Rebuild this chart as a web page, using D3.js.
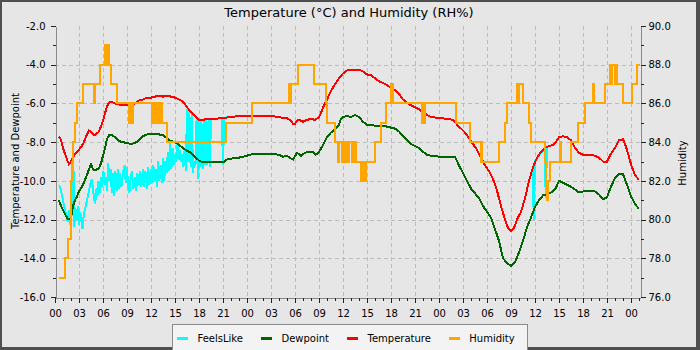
<!DOCTYPE html>
<html>
<head>
<meta charset="utf-8">
<script src="https://cdn.jsdelivr.net/npm/d3@7"></script>
<style>
  html, body { margin: 0; padding: 0; background: #e6e6e6; }
  svg { display: block; font-family: "DejaVu Sans", sans-serif; }
</style>
</head>
<body>
<svg id="chart" width="700" height="350"></svg>
<script>
// ---- Data: [hours since first midnight, value] ----

const temperature = [
  [0.5,-7.7],[0.75,-7.9],[1.0,-8.3],[1.25,-8.6],[1.5,-8.9],[1.75,-9.15],[2.0,-9.0],[2.25,-8.8],
  [2.5,-8.6],[3.0,-8.4],[3.5,-8.1],[4.0,-7.6],[4.25,-7.4],[4.5,-7.45],[4.75,-7.6],[5.0,-7.65],
  [5.5,-7.45],[6.0,-6.9],[6.25,-6.5],[6.5,-6.15],[6.75,-5.95],[7.0,-5.9],[7.5,-6.0],[8.0,-6.05],
  [8.5,-6.1],[9.0,-6.1],[9.5,-6.1],[10.0,-6.0],[10.5,-5.85],[11.0,-5.8],[11.5,-5.7],[12.0,-5.7],
  [12.5,-5.65],[13.0,-5.6],[13.5,-5.65],[14.0,-5.6],[14.5,-5.65],[15.0,-5.7],[15.5,-5.8],[16.0,-5.9],
  [16.5,-6.2],[17.0,-6.45],[17.5,-6.65],[18.0,-6.85],[18.5,-6.85],[19.0,-6.8],[19.5,-6.8],[20.0,-6.8],
  [21.0,-6.75],[22.0,-6.7],[23.0,-6.65],[24.0,-6.65],[25.0,-6.65],[26.0,-6.65],[27.0,-6.65],[28.0,-6.7],
  [28.5,-6.75],[29.0,-6.75],[29.5,-6.9],[29.75,-7.05],[30.0,-7.05],[30.25,-6.9],[30.5,-6.85],[31.0,-6.95],
  [31.5,-6.85],[32.0,-6.8],[32.5,-6.85],[33.0,-6.7],[33.25,-6.5],[33.5,-6.2],[34.0,-5.8],[34.5,-5.35],
  [35.0,-5.0],[35.5,-4.7],[36.0,-4.45],[36.5,-4.3],[37.0,-4.25],[37.5,-4.25],[38.0,-4.25],[38.5,-4.35],
  [39.0,-4.5],[39.5,-4.55],[40.0,-4.7],[40.5,-4.85],[41.0,-4.95],[41.5,-5.05],[42.0,-5.2],[42.5,-5.3],
  [43.0,-5.5],[43.5,-5.8],[44.0,-5.95],[44.5,-6.1],[45.0,-6.2],[45.5,-6.3],[46.0,-6.45],[46.5,-6.6],
  [47.0,-6.7],[48.0,-6.75],[49.0,-6.8],[49.75,-6.85],[50.25,-7.1],[50.75,-7.3],[51.25,-7.5],[51.75,-7.8],
  [52.25,-8.1],[52.75,-8.4],[53.25,-8.8],[53.75,-9.2],[54.25,-9.5],[54.75,-9.9],[55.25,-10.5],[55.75,-11.3],
  [56.25,-12.0],[56.6,-12.4],[57.0,-12.6],[57.4,-12.4],[57.75,-12.0],[58.25,-11.6],[58.75,-10.9],[59.25,-10.0],
  [59.75,-9.3],[60.25,-8.8],[60.75,-8.5],[61.25,-8.3],[61.75,-8.2],[62.25,-8.15],[62.6,-8.0],[63.0,-7.75],
  [63.5,-7.7],[64.0,-7.75],[64.5,-7.9],[65.0,-8.3],[65.5,-8.55],[66.0,-8.65],[66.5,-8.65],[67.0,-8.65],
  [67.5,-8.7],[68.0,-8.8],[68.5,-9.0],[69.0,-9.0],[69.5,-8.6],[70.0,-8.3],[70.5,-7.9],[71.0,-7.85],
  [71.25,-8.1],[71.5,-8.4],[72.0,-9.15],[72.5,-9.7],[73.0,-9.95]
];

const dewpoint = [
  [0.5,-11.0],[0.75,-11.3],[1.0,-11.5],[1.25,-11.7],[1.5,-11.9],[1.75,-12.0],[2.0,-11.9],[2.25,-11.3],
  [2.5,-11.0],[2.75,-10.8],[3.0,-10.55],[3.5,-10.2],[4.0,-9.7],[4.25,-9.4],[4.5,-9.15],[4.75,-9.4],
  [5.0,-9.45],[5.5,-9.35],[5.75,-9.1],[6.0,-8.7],[6.25,-8.3],[6.5,-7.85],[6.75,-7.65],[7.0,-7.6],
  [7.5,-7.75],[8.0,-7.95],[8.5,-8.0],[9.0,-8.05],[9.5,-8.1],[10.0,-8.05],[10.5,-7.9],[11.0,-7.7],
  [11.5,-7.6],[12.0,-7.6],[12.5,-7.6],[13.0,-7.6],[13.5,-7.65],[14.0,-7.8],[14.5,-7.95],[15.0,-8.0],
  [15.5,-8.15],[16.0,-8.3],[16.5,-8.45],[17.0,-8.55],[17.5,-8.75],[18.0,-8.95],[18.5,-9.05],[19.0,-9.05],
  [20.0,-9.05],[21.0,-9.05],[21.5,-8.9],[22.0,-8.85],[23.0,-8.8],[24.0,-8.7],[24.75,-8.6],[26.0,-8.6],
  [27.0,-8.6],[28.0,-8.65],[28.5,-8.75],[29.0,-8.7],[29.5,-8.85],[29.75,-8.9],[30.25,-8.55],[30.75,-8.7],
  [31.25,-8.55],[31.75,-8.5],[32.25,-8.5],[32.6,-8.65],[33.0,-8.5],[33.5,-8.15],[34.0,-7.75],[34.5,-7.5],
  [35.0,-7.35],[35.5,-7.1],[35.75,-6.8],[36.0,-6.7],[36.5,-6.65],[37.0,-6.7],[37.5,-6.6],[38.0,-6.7],
  [38.5,-6.95],[39.0,-7.1],[39.5,-7.1],[40.0,-7.15],[40.5,-7.15],[41.0,-7.15],[41.5,-7.2],[42.0,-7.25],
  [42.5,-7.3],[43.0,-7.45],[43.5,-7.7],[44.0,-7.9],[44.5,-8.1],[45.0,-8.2],[45.5,-8.3],[46.0,-8.5],
  [46.5,-8.65],[47.0,-8.7],[48.0,-8.75],[49.0,-8.75],[50.0,-8.75],[50.5,-9.2],[51.0,-9.6],[51.5,-10.0],
  [52.0,-10.4],[52.5,-10.65],[53.0,-10.9],[53.5,-11.3],[54.0,-11.6],[54.5,-11.9],[55.0,-12.5],[55.5,-13.1],
  [56.0,-14.0],[56.5,-14.25],[57.0,-14.4],[57.5,-14.2],[58.0,-13.7],[58.5,-13.1],[59.0,-12.4],[59.5,-11.9],
  [60.0,-11.35],[60.5,-11.0],[61.0,-10.75],[61.5,-10.7],[62.0,-10.6],[62.5,-10.45],[63.0,-10.0],[63.5,-10.1],
  [64.0,-10.2],[64.5,-10.3],[65.0,-10.45],[65.5,-10.6],[66.0,-10.55],[66.5,-10.5],[67.0,-10.5],[67.5,-10.55],
  [68.0,-10.7],[68.5,-10.95],[69.0,-10.85],[69.5,-10.3],[70.0,-9.85],[70.5,-9.65],[71.0,-9.65],[71.5,-10.2],
  [72.0,-10.8],[72.5,-11.2],[73.0,-11.45]
];

// Feels-like is only drawn where it departs from the air temperature (null = gap)
const feelsLike = [
  [0.5,-10.2],[0.7,-10.4],[0.85,-10.7],[1.0,-11.0],[1.15,-11.3],[1.3,-11.6],[1.45,-11.9],[1.6,-12.1],
  [1.75,-11.5],[1.85,-12.2],[2.0,-12.3],[2.15,-11.2],[2.3,-9.0],[2.4,-12.4],[2.55,-11.4],[2.7,-12.0],
  [2.85,-11.3],[3.0,-12.3],[3.15,-11.6],[3.3,-12.1],[3.45,-12.5],[3.6,-11.7],[3.8,-11.4],[4.0,-11.0],
  [4.2,-10.6],[4.4,-10.2],[4.6,-9.9],[4.75,-10.4],[4.9,-11.0],[5.05,-11.1],[5.15,-10.4],[5.3,-10.8],
  [5.45,-10.0],[5.6,-10.6],[5.75,-9.8],[5.9,-10.3],[6.05,-9.5],[6.2,-10.2],[6.35,-9.8],[6.5,-10.5],
  [6.65,-9.1],[6.8,-10.0],[6.95,-9.4],[7.1,-10.6],[7.25,-9.6],[7.4,-10.8],[7.55,-9.5],[7.7,-10.5],
  [7.85,-9.4],[8.0,-10.4],[8.15,-9.6],[8.3,-10.3],[8.5,-9.6],[8.7,-9.2],[8.85,-10.1],[9.0,-9.3],
  [9.15,-10.3],[9.3,-10.6],[9.45,-9.9],[9.6,-9.5],[9.8,-10.4],[10.0,-9.8],[10.15,-10.5],[10.3,-9.6],
  [10.5,-10.2],[10.65,-9.5],[10.8,-10.3],[11.0,-9.4],[11.15,-10.3],[11.3,-9.5],[11.5,-10.4],[11.65,-9.3],
  [11.8,-10.2],[12.0,-9.4],[12.15,-10.1],[12.3,-9.2],[12.45,-10.0],[12.6,-9.4],[12.75,-10.3],[12.9,-9.0],
  [13.05,-10.0],[13.2,-9.2],[13.35,-10.1],[13.5,-8.8],[13.65,-10.0],[13.8,-9.0],[13.95,-9.6],[14.1,-8.5],
  [14.25,-9.5],[14.4,-8.0],[14.55,-9.4],[14.7,-8.3],[14.85,-9.2],[15.0,-8.6],[15.15,-9.0],[15.3,-8.1],
  [15.45,-8.9],[15.6,-8.4],[15.75,-9.0],[15.9,-8.6],[16.05,-9.3],[16.2,-8.4],[16.35,-9.5],[16.5,-6.3],
  [16.65,-9.0],[16.8,-6.4],[16.95,-9.3],[17.1,-6.5],[17.25,-9.6],[17.4,-9.0],[17.55,-9.2],[17.7,-6.7],
  [17.85,-9.9],[18.0,-6.85],[18.15,-9.3],[18.3,-6.85],[18.45,-9.4],[18.6,-6.85],[18.75,-9.2],[18.9,-6.8],
  [19.05,-9.2],[19.2,-6.8],[19.35,-9.3],[19.5,-6.8],[20.0,-6.8],[20.85,-6.75],[21.0,-9.2],[21.15,-6.75],
  [21.5,-6.72],[21.6,null],
  [59.7,-9.4],[59.85,-12.0],[60.0,-9.0],[60.5,-8.7],[61.2,-8.35],[61.35,-10.9],[61.5,-8.3]
];

// Relative humidity, recorded as whole-percent steps (value holds until next point)
const humidity = [
  [0.5,77],[1.3,78],[1.62,79],[1.95,80],[2.0,81],[2.05,82],[2.15,83],[2.3,84],[2.5,85],[2.8,86],
  [3.5,87],[4.85,86],[5.05,87],[5.6,88],[6.3,89],[6.45,88],[6.52,89],[6.75,88],[7.0,87],[7.8,86],
  [9.25,85],[9.35,86],[9.45,85],[9.55,86],[9.65,85],[9.75,86],
  [12.08,85],[12.2,86],[12.3,85],[12.45,86],[12.55,85],[12.62,86],
  [12.92,85],[13.05,86],[13.15,85],[13.3,86],[13.4,85],
  [13.96,84],[21.4,85],[24.67,86],[29.25,87],[29.35,86],[29.45,87],[30.38,88],[32.33,87],
  [33.92,86],[34.05,85],[34.96,84],[35.4,83],[35.5,84],[35.85,83],[35.95,84],[36.05,83],[36.15,84],
  [36.25,83],[36.35,84],[36.45,83],[36.55,84],[36.65,83],[36.75,84],[37.1,83],[37.2,84],[37.3,83],
  [37.4,84],[37.67,83],[38.3,82],[38.4,83],[38.5,82],[38.65,83],[38.75,82],[38.9,83],[40.0,84],
  [40.7,85],[41.4,86],[42.05,87],[42.2,86],[45.9,85],[46.0,86],[46.1,85],[46.3,86],[50.1,85],
  [51.9,84],[53.2,83],[53.3,84],[53.4,83],[55.5,84],[56.25,85],[56.54,86],[57.7,87],[57.95,86],
  [58.05,87],[58.54,86],[59.3,85],[59.46,84],[61.25,83],[61.4,82],[61.5,81],[61.65,82],[61.875,83],
  [63.1,84],[63.25,83],[64.5,84],[65.4,85],[66.25,86],[67.2,87],[67.35,86],[68.75,87],[69.4,88],
  [69.55,87],[69.65,88],[70.0,87],[70.1,88],[70.25,87],[71.04,86],[72.08,87],[72.7,88],[73.1,88]
];

const tempTicks = [-16, -14, -12, -10, -8, -6, -4, -2];
const humTicks = [76, 78, 80, 82, 84, 86, 88, 90];
const hourTickLabels = ["00","03","06","09","12","15","18","21","00","03","06","09","12",
                        "15","18","21","00","03","06","09","12","15","18","21","00"];

const seriesNames = ["FeelsLike", "Dewpoint", "Temperature", "Humidity"];
const seriesColors = ["#00ffff", "#006400", "#ff0000", "#ffa500"];

// ---- Layout ----
const svg = d3.select("#chart");
const x = d3.scaleLinear().domain([0, 73.125]).range([55, 640]);
const yT = d3.scaleLinear().domain([-16, -2]).range([297, 26]);
const yH = d3.scaleLinear().domain([76, 90]).range([297, 26]);

// frame
svg.append("rect").attr("width", 700).attr("height", 350).attr("fill", "#4f4f4f");
svg.append("rect").attr("x", 2).attr("y", 2).attr("width", 694).attr("height", 345).attr("fill", "#e6e6e6");

// grid
const hourTicks = hourTickLabels.map((_, i) => i * 3);
const grid = svg.append("g").attr("stroke", "#bcbcbc").attr("stroke-dasharray", "4,3").attr("shape-rendering", "crispEdges");
grid.selectAll("line.h").data(tempTicks.slice(1, -1)).join("line")
  .attr("x1", x(0)).attr("x2", x(73.125)).attr("y1", d => yT(d) + 0.5).attr("y2", d => yT(d) + 0.5);
grid.selectAll("line.v").data(hourTicks.slice(1)).join("line")
  .attr("x1", d => Math.round(x(d)) + 0.5).attr("x2", d => Math.round(x(d)) + 0.5)
  .attr("y1", yT(-2)).attr("y2", yT(-16));

// axes
function styleAxis(g) {
  g.selectAll(".domain").attr("stroke", "#8a8a8a");
  g.selectAll(".tick line").attr("stroke", "#222");
  g.selectAll("text").attr("font-family", "DejaVu Sans, sans-serif").attr("font-size", 10).attr("fill", "#000");
  g.attr("shape-rendering", "crispEdges");
}
const fmt1 = d => d.toFixed(1);
const oddRange = (a, b) => { const r = []; for (let v = a; v <= b; v += 2) r.push(v); return r; };

svg.append("g").attr("transform", "translate(55.5,0)")
  .call(d3.axisLeft(yT).tickValues(tempTicks).tickFormat(fmt1).tickSize(5).tickPadding(5).tickSizeOuter(0))
  .call(styleAxis);
svg.append("g").attr("transform", "translate(55.5,0)")
  .call(d3.axisLeft(yT).tickValues(oddRange(-15, -3)).tickFormat("").tickSize(3).tickSizeOuter(0))
  .call(g => g.select(".domain").remove()).call(styleAxis);

svg.append("g").attr("transform", "translate(640.5,0)")
  .call(d3.axisRight(yH).tickValues(humTicks).tickFormat(fmt1).tickSize(5).tickPadding(3).tickSizeOuter(0))
  .call(styleAxis);
svg.append("g").attr("transform", "translate(640.5,0)")
  .call(d3.axisRight(yH).tickValues(oddRange(77, 89)).tickFormat("").tickSize(3).tickSizeOuter(0))
  .call(g => g.select(".domain").remove()).call(styleAxis);

svg.append("g").attr("transform", "translate(0,297.5)")
  .call(d3.axisBottom(x).tickValues(hourTicks).tickFormat((d, i) => hourTickLabels[i]).tickSize(5).tickPadding(7).tickSizeOuter(0))
  .call(styleAxis);
svg.append("g").attr("transform", "translate(0,297.5)")
  .call(d3.axisBottom(x).tickValues(d3.range(1, 74).filter(h => h % 3 !== 0)).tickFormat("").tickSize(3).tickSizeOuter(0))
  .call(g => g.select(".domain").remove()).call(styleAxis);

// titles
svg.append("text").attr("x", 349).attr("y", 17).attr("text-anchor", "middle")
  .attr("font-size", 13).attr("fill", "#000").text("Temperature (°C) and Humidity (RH%)");
svg.append("text").attr("transform", "translate(19,161) rotate(-90)").attr("text-anchor", "middle")
  .attr("font-size", 10).attr("fill", "#000").text("Temperature and Dewpoint");
svg.append("text").attr("transform", "translate(686,163) rotate(-90)").attr("text-anchor", "middle")
  .attr("font-size", 10).attr("fill", "#000").text("Humidity");

// series
const plot = svg.append("g").attr("fill", "none").attr("stroke-width", 2).attr("shape-rendering", "crispEdges");
const lineT = d3.line().defined(d => d[1] != null).x(d => x(d[0])).y(d => yT(d[1]));
const lineH = d3.line().curve(d3.curveStepAfter).x(d => x(d[0])).y(d => yH(d[1]));

plot.append("path").attr("d", lineT(feelsLike)).attr("stroke", seriesColors[0]);
plot.append("path").attr("d", lineT(dewpoint)).attr("stroke", seriesColors[1]);
plot.append("path").attr("d", lineT(temperature)).attr("stroke", seriesColors[2]);
plot.append("path").attr("d", lineH(humidity)).attr("stroke", seriesColors[3]);

// legend
const legend = svg.append("g");
legend.append("rect").attr("x", 172.5).attr("y", 324.5).attr("width", 355).attr("height", 30)
  .attr("fill", "#f3f3f3").attr("stroke", "#8a8a8a");
let cx = 177;
seriesNames.forEach((name, i) => {
  legend.append("line").attr("x1", cx).attr("x2", cx + 11).attr("y1", 338.5).attr("y2", 338.5)
    .attr("stroke", seriesColors[i]).attr("stroke-width", 3).attr("shape-rendering", "crispEdges");
  const t = legend.append("text").attr("x", cx + 20.5).attr("y", 342)
    .attr("font-size", 10).attr("fill", "#000").text(name);
  cx = cx + 20.5 + t.node().getComputedTextLength() + 18;
});
</script>
</body>
</html>
